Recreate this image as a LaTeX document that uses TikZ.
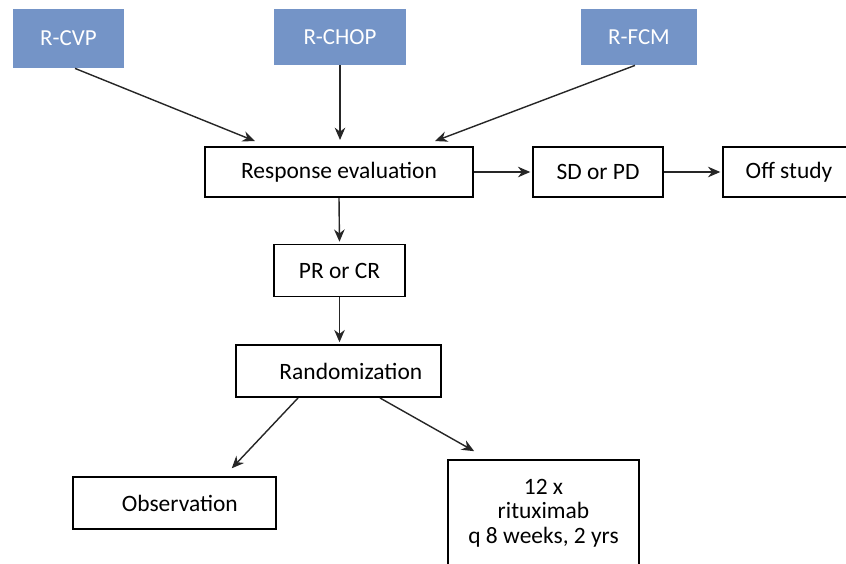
\documentclass[tikz,border=0pt]{standalone}
\usepackage{fontspec}
\setmainfont{Carlito}
\usetikzlibrary{arrows.meta,calc}
\definecolor{armblue}{RGB}{116,148,199}
\tikzset{
  arm/.style={fill=armblue,text=white,inner sep=0pt,font=\fontsize{13}{15}\selectfont},
  stagebox/.style={draw=black,line width=1.1pt,fill=white,inner sep=0pt,font=\fontsize{13.3}{13.8}\selectfont},
  arr/.style={-{Stealth[length=7pt,width=6pt]},line width=0.8pt,draw=black!85}
}
\begin{document}
\begin{tikzpicture}[x=0.567pt,y=-0.567pt]
\useasboundingbox (0,0) rectangle (846,563);
\clip (0,0) rectangle (846,563);

\node[arm,minimum width=62.9pt,minimum height=33.5pt](rcvp) at (68.5,38.5) {R-CVP};
\node[arm,minimum width=74.8pt,minimum height=31.8pt](rchop) at (340,37) {R-CHOP};
\node[arm,minimum width=65.8pt,minimum height=31.8pt](rfcm) at (639,37) {R-FCM};

\node[stagebox,minimum width=152pt,minimum height=28.4pt](response) at (339,172) {Response evaluation};
\node[stagebox,minimum width=73.7pt,minimum height=28.4pt](sdpd) at (598,172) {SD or PD};
\node[stagebox,minimum width=74.8pt,minimum height=28.4pt](offstudy) at (789,172) {Off study};
\node[stagebox,minimum width=74.3pt,minimum height=29.5pt](prcr) at (339.5,270.5) {PR or CR};
\node[stagebox,minimum width=116.2pt,minimum height=29.5pt](random) at (338.5,371) {\hspace*{14pt}Randomization};
\node[stagebox,minimum width=115.1pt,minimum height=29.5pt](observ) at (174.5,503) {\hspace*{6pt}Observation};
\node[stagebox,anchor=north,minimum width=108.3pt,align=center,inner ysep=11pt,text depth=40pt](ritux) at (543.5,459) {12 x\\rituximab\\q 8 weeks, 2 yrs};

\draw[arr,shorten >=7.4pt] ($(rcvp.south)+(6.5,0)$) -- ($(response.north)+(-72,0)$);
\draw[arr,shorten >=3.4pt] (rchop.south) -- (response.north -| rchop.south);
\draw[arr,shorten >=7.9pt] ($(rfcm.south)+(-4,0)$) -- ($(response.north)+(83,0)$);
\draw[arr,shorten >=1pt] (response.east) -- (sdpd.west);
\draw[arr,shorten >=1pt] (sdpd.east) -- (offstudy.west);
\draw[arr,shorten >=1pt] (response.south) -- (prcr.north);
\draw[arr,shorten >=1pt] (prcr.south) -- (random.north -| prcr.south);
\draw[arr,shorten >=6pt] ($(random.south)+(-40.5,0)$) -- ($(observ.north)+(50,0)$);
\draw[arr,shorten >=9pt] ($(random.south)+(41.5,0)$) -- ($(ritux.north)+(-55.5,0)$);
\end{tikzpicture}
\end{document}
